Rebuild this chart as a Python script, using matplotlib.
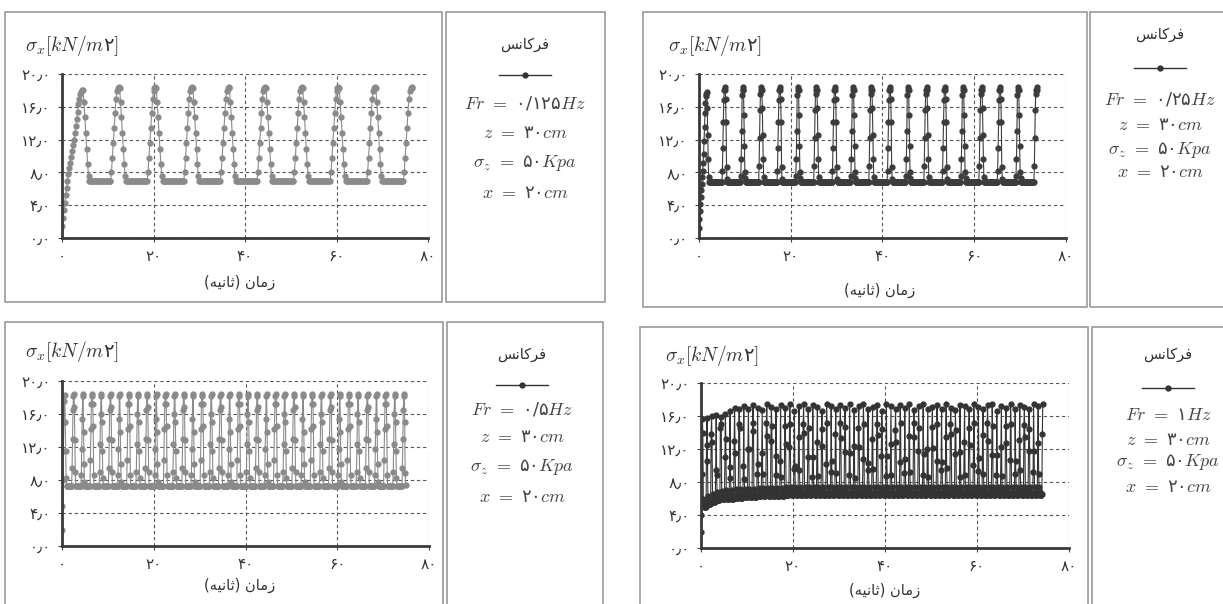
import numpy as np
import matplotlib
matplotlib.use('Agg')
import matplotlib.pyplot as plt
from matplotlib.patches import Rectangle
from matplotlib.lines import Line2D

plt.rcParams['font.family'] = ['DejaVu Sans']
plt.rcParams['mathtext.fontset'] = 'cm'

W, H = 1223, 604

# ---------------- data: sigma_x [kN/m2] vs time [s] ----------------
freq_labels = ['۰/۱۲۵', '۰/۲۵', '۰/۵', '۱']
x_ticks = [0, 20, 40, 60, 80]
y_ticks = [0, 4, 8, 12, 16, 20]

# Fr = 0.125 Hz (sampled every 0.2 s)
dt_1 = 0.2
ramp_1 = [1.5, 2.5, 3.4, 4.3, 5.2, 6.1, 7.0, 7.8, 8.5, 9.2, 9.9, 10.6,
          11.3, 12.0, 12.8, 13.6, 14.5, 15.4, 16.3, 17.0, 17.5, 17.8, 18.0, 18.1]
fall_1 = [[16.6, 14.8, 12.8, 10.8, 9.0, 7.6]]
rise_1 = [[8.0, 9.8, 11.6, 13.4, 15.2, 16.9]]
top_1 = [17.9, 18.3, 18.4, 18.3]
base_1 = 6.95
flat_1 = 24
cycles_1 = 9

# Fr = 0.25 Hz (sampled every 0.1 s)
dt_2 = 0.1
ramp_2 = [1.2, 2.3, 3.3, 4.2, 5.0, 5.8, 6.6, 7.4, 8.2, 9.2, 10.3, 11.8,
          13.5, 15.2, 16.5, 17.3, 17.6, 17.8]
fall_2 = [[15.8, 12.6, 9.6, 7.4], [16.9, 14.2, 8.6, 7.2], [15.0, 11.2, 8.0, 7.3]]
rise_2 = [[8.2, 11.0, 14.2, 16.8], [7.6, 9.6, 13.0, 17.4], [8.8, 12.2, 15.6, 17.6]]
top_2 = [18.0, 18.4, 18.1]
base_2 = 6.85
flat_2 = 29
cycles_2 = 18

# Fr = 0.5 Hz (sampled every 0.1 s)
dt_3 = 0.1
ramp_3 = [2.0, 4.9, 8.0, 11.5, 15.0, 17.6, 18.3]
fall_3 = [[15.0, 11.5, 8.2], [16.8, 12.8, 9.0], [13.8, 10.0, 7.8], [17.2, 14.5, 8.6]]
rise_3 = [[9.5, 13.0, 16.5], [8.6, 11.8, 15.4], [10.4, 14.2, 17.2], [9.0, 12.4, 16.0]]
top_3 = [18.2, 18.4]
base_3 = 7.3
flat_3 = 12
cycles_3 = 37
tail_3 = [15.0, 8.8, 7.4]

# Fr = 1 Hz (sampled every 0.1 s), one entry per cycle
dt_4 = 0.1
ramp_4 = [2.0, 4.0, 9.0, 15.6]
base_4 = [5.0, 5.3, 5.6, 5.8, 5.9, 6.0, 6.0, 6.1, 6.1, 6.2, 6.2, 6.2, 6.3, 6.3,
          6.3, 6.3, 6.3, 6.3, 6.4, 6.4] + [6.4] * 54
peak_4 = [15.8, 16.0, 16.1, 15.9, 16.3, 16.6, 17.0, 16.8, 17.2, 16.9,
          17.3, 17.0, 16.7, 17.4, 17.1, 16.8, 17.3, 17.0, 17.4, 16.6,
          17.2, 17.4, 16.9, 17.3, 17.1, 16.6, 17.4, 17.2, 16.8, 17.3,
          17.0, 17.4, 16.7, 17.2, 17.4, 16.9, 17.1, 17.3, 16.6, 17.4,
          17.2, 16.9, 17.3, 17.0, 17.4, 16.7, 17.2, 17.4, 16.8, 17.1,
          17.3, 16.9, 17.4, 17.0, 16.7, 17.3, 17.2, 16.8, 17.4, 17.1,
          16.9, 17.3, 17.4, 16.6, 17.2, 17.0, 17.4, 16.8, 17.3, 17.1,
          16.9, 17.4, 17.2, 17.5]
up_4 = [12.5, 13.8, 9.5, 14.5, 11.0, 8.5, 13.0, 15.0, 10.0, 12.0,
        14.2, 9.0, 11.5, 15.2, 13.0, 8.8, 10.5, 14.8, 12.2, 9.6,
        13.5, 15.0, 11.0, 8.6, 12.8, 14.4, 10.2, 9.2, 13.8, 15.1,
        11.6, 8.9, 12.4, 14.6, 10.8, 9.4, 13.2, 15.0, 11.2, 8.7,
        12.6, 14.3, 10.4, 9.1, 13.6, 15.2, 11.8, 8.8, 12.0, 14.7,
        10.6, 9.5, 13.4, 15.0, 11.4, 8.6, 12.9, 14.5, 10.1, 9.3,
        13.7, 15.1, 11.3, 8.9, 12.3, 14.8, 10.7, 9.0, 13.1, 14.9,
        11.7, 9.2, 12.7, 13.8]
down_4 = [14.0, 10.5, 12.8, 8.8, 15.0, 13.2, 9.8, 11.5, 14.6, 8.4,
          12.0, 15.1, 10.2, 9.0, 13.6, 14.8, 11.2, 8.6, 12.6, 15.0,
          10.0, 9.4, 13.9, 14.5, 11.0, 8.7, 12.4, 15.2, 10.6, 9.1,
          13.3, 14.7, 11.5, 8.5, 12.2, 15.0, 10.3, 9.6, 13.7, 14.4,
          11.1, 8.8, 12.9, 15.1, 10.8, 9.2, 13.5, 14.6, 11.4, 8.6,
          12.1, 15.0, 10.4, 9.7, 13.8, 14.3, 11.6, 8.9, 12.5, 15.2,
          10.9, 9.0, 13.0, 14.8, 11.3, 8.7, 12.7, 15.0, 10.5, 9.5,
          13.4, 14.4, 11.8, 9.0]


def build(ramp, falls, rises, top, base, n_flat, n_cycles, tail=()):
    vals = list(ramp)
    for k in range(n_cycles):
        vals += falls[k % len(falls)] + [base] * n_flat + rises[k % len(rises)] + top
    vals += list(tail)
    return np.array(vals)


s1 = build(ramp_1, fall_1, rise_1, top_1, base_1, flat_1, cycles_1)
s2 = build(ramp_2, fall_2, rise_2, top_2, base_2, flat_2, cycles_2)
s3 = build(ramp_3, fall_3, rise_3, top_3, base_3, flat_3, cycles_3, tail_3)
v4 = list(ramp_4)
for b, p, u, d in zip(base_4, peak_4, up_4, down_4):
    v4 += [d, b + 1.0, b + 0.4, b, b, b, b, b + 0.2, u, p]
s4 = np.array(v4)

series = [(s1, dt_1), (s2, dt_2), (s3, dt_3), (s4, dt_4)]
colors = ['#8a8a8a', '#3c3c3c', '#8a8a8a', '#333333']

# ---------------- layout (pixel boxes of the scanned page) ----------------
panels = [
    dict(ax=(62, 74, 428, 238), box=(5, 12, 442, 302), leg=(446, 12, 605, 302),
         ylab=(25, 45), xlab=(240, 282), legx=525, legy=[45, 75, 103, 133, 163, 193]),
    dict(ax=(699, 74, 1066, 238), box=(643, 12, 1087, 307), leg=(1090, 12, 1240, 307),
         ylab=(668, 45), xlab=(880, 290), legx=1160, legy=[35, 68, 100, 125, 150, 172]),
    dict(ax=(62, 381, 429, 546), box=(5, 322, 443, 620), leg=(447, 322, 603, 620),
         ylab=(25, 352), xlab=(240, 585), legx=522, legy=[355, 385, 410, 437, 467, 497]),
    dict(ax=(701, 383, 1069, 548), box=(640, 327, 1088, 620), leg=(1092, 327, 1240, 620),
         ylab=(665, 355), xlab=(885, 590), legx=1168, legy=[355, 388, 415, 440, 462, 487]),
]


def fx(x):
    return x / W


def fy(y):
    return 1 - y / H


def fa(s):
    return s.translate(str.maketrans('0123456789.', '۰۱۲۳۴۵۶۷۸۹٫'))


# Persian words in presentation forms, visual (left-to-right) order
word_freq = '\uFEB2\uFEE7\uFE8E\uFB90\uFEAE\uFED3'
word_time = '(\uFEEA\uFBFF\uFEE7\uFE8E\uFE9B) \uFEE5\uFE8E\uFEE3\uFEAF'

fig = plt.figure(figsize=(W / 100, H / 100), dpi=100)

for i, p in enumerate(panels):
    # frames around chart and legend
    for (l, t, r, b) in (p['box'], p['leg']):
        fig.add_artist(Rectangle((fx(l), fy(b)), (r - l) / W, (b - t) / H,
                                 transform=fig.transFigure, fill=False,
                                 edgecolor='#9a9a9a', lw=1.2))

    l, t, r, b = p['ax']
    ax = fig.add_axes([fx(l), fy(b), (r - l) / W, (b - t) / H])
    vals, dt = series[i]
    tt = np.arange(len(vals)) * dt
    ax.plot(tt, vals, color=colors[i], lw=0.8, marker='o', ms=3.5,
            mfc=colors[i], mec=colors[i])
    ax.set_xlim(0, 80)
    ax.set_ylim(0, 20)
    ax.set_xticks(x_ticks)
    ax.set_yticks(y_ticks)
    ax.set_xticklabels([fa(str(v)) for v in x_ticks], fontsize=11, color='#333')
    ax.set_yticklabels([fa(f'{v:.1f}') for v in y_ticks], fontsize=11, color='#333')
    ax.tick_params(length=3, width=0.8, color='#444', pad=5)
    ax.set_axisbelow(True)
    ax.grid(True, ls=(0, (3, 2.5)), color='#555555', lw=0.8)
    for s in ('top', 'right'):
        ax.spines[s].set_visible(False)
    for s in ('left', 'bottom'):
        ax.spines[s].set_linewidth(2)
        ax.spines[s].set_color('#3a3a3a')

    # axis titles
    fig.text(fx(p['ylab'][0]), fy(p['ylab'][1]), r'$\sigma_x[kN/m$۲$]$',
             fontsize=14, color='#333', ha='left', va='center')
    fig.text(fx(p['xlab'][0]), fy(p['xlab'][1]), word_time,
             fontsize=10.5, color='#333', ha='center', va='center')

    # legend block
    cx = p['legx']
    ly = p['legy']
    fig.text(fx(cx), fy(ly[0]), word_freq, fontsize=10.5, color='#333',
             ha='center', va='center')
    fig.add_artist(Line2D([fx(cx - 26), fx(cx + 26)], [fy(ly[1]), fy(ly[1])],
                          transform=fig.transFigure, color='#333', lw=1))
    fig.add_artist(Line2D([fx(cx)], [fy(ly[1])], transform=fig.transFigure,
                          marker='o', ms=3.5, color='#333'))
    lines = [r'$Fr$ $=$ ' + freq_labels[i] + r'$Hz$',
             r'$z$ $=$ ۳۰$cm$',
             r'$\sigma_z$ $=$ ۵۰$Kpa$',
             r'$x$ $=$ ۲۰$cm$']
    for txt, y in zip(lines, ly[2:]):
        fig.text(fx(cx), fy(y), txt, fontsize=13, color='#444',
                 ha='center', va='center')

fig.savefig('out.png', dpi=100, facecolor='white')
